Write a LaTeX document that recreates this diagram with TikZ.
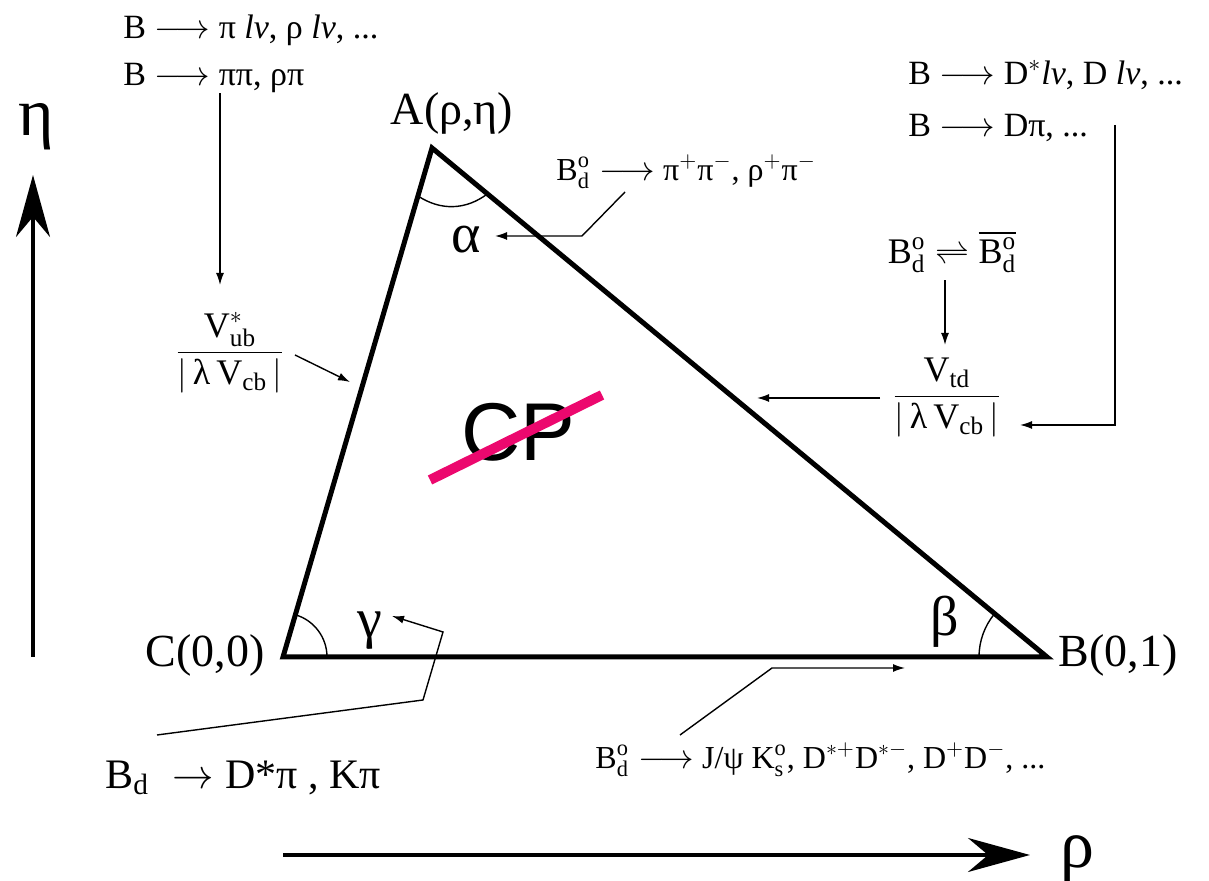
\documentclass[tikz,border=0pt]{standalone}
\usepackage{amsmath}
\usepackage{fontspec}
\setmainfont{Liberation Serif}
\newfontfamily\cpfont{Liberation Sans}
\usetikzlibrary{arrows.meta, angles, calc}
\definecolor{strikered}{RGB}{236,8,110}
\tikzset{
    edge/.style={draw=black, line width=2.5pt, line join=miter},
    lead/.style={draw=black, line width=0.7pt},
    tip/.style={-{Latex[length=6pt,width=4pt]}},
    axis/.style={line width=2pt, -{Stealth[length=31pt,width=17pt]}},
    corner/.style={font=\fontsize{23}{26}\selectfont},
    greek/.style={font=\fontsize{28}{30}\selectfont},
    axislab/.style={font=\fontsize{34}{36}\selectfont},
    decay/.style={font=\fontsize{17}{20}\selectfont, anchor=west, inner sep=0pt},
    ratio/.style={font=\fontsize{18}{22}\selectfont, anchor=base}
}
\newcommand{\Bdo}{\text{B}^{\text{o}}_{\text{d}}}

\begin{document}
\begin{tikzpicture}[x=0.5pt, y=0.5pt]
    \useasboundingbox (0,0) rectangle (1209,881);
    % unitarity triangle
    \coordinate (A) at (432,733);
    \coordinate (C) at (283,224);
    \coordinate (B) at (1047,224);
    \draw[edge] (A) -- (B) -- (C) -- cycle;
    \pic[draw, line width=0.7pt, angle radius=22pt] {angle = B--C--A};
    \pic[draw, line width=0.7pt, angle radius=34pt] {angle = A--B--C};
    \draw[lead] ($(A)!25pt!(C)$) to[bend right=35] ($(A)!36pt!(B)$);
    \node[corner] (Alab) at (452,768) {A(ρ,η)};
    \node[corner] (Clab) at (205,226) {C(0,0)};
    \node[corner] (Blab) at (1118,226) {B(0,1)};
    \node[greek] (alpha) at (466,641) {α};
    \node[greek] (gamma) at (370,250) {γ};
    \node[greek] (beta) at (945,259) {β};

    % axes
    \coordinate (eta0) at (33,224);
    \coordinate (eta1) at (33,706);
    \coordinate (rho0) at (283,26);
    \coordinate (rho1) at (1030,26);
    \draw[axis] (eta0) -- (eta1);
    \draw[axis] (rho0) -- (rho1);
    \node[axislab] (etalab) at (36,754) {η};
    \node[axislab] (rholab) at (1077,22) {ρ};

    % CP
    \node[font=\cpfont\fontsize{41}{46}\selectfont] (cp) at (518,449) {CP};
    \draw[strikered, line width=5pt] (430,401) -- (602,486);

    % left side: V_ub
    \node[decay] (lt1) at (123,851) {B $\longrightarrow$ π \textit{lν}, ρ \textit{lν}, ...};
    \node[decay] (lt2) at (123,803) {B $\longrightarrow$ ππ, ρπ};
    \node[ratio] (vub) at (230,520)
        {$\dfrac{\text{V}^{*}_{\text{ub}}}{\left|\,\text{λ\,V}_{\text{cb}}\,\right|}$};
    \coordinate (vub_in) at (220,596);
    \draw[lead, tip] (lt2.south -| vub_in) -- (vub_in);
    \coordinate (vub_out) at (295,526);
    \coordinate (ac_side) at (350,499);
    \draw[lead, tip] (vub_out) -- (ac_side);

    % right side: V_td
    \node[decay] (rt1) at (908,806) {B $\longrightarrow$ D$^{*}$\textit{lν}, D \textit{lν}, ...};
    \node[decay] (rt2) at (908,753) {B $\longrightarrow$ Dπ, ...};
    \node (mix) at (952,629) {\fontsize{18}{20}\selectfont
        $\Bdo \rightleftharpoons \overline{\Bdo}$};
    \node[ratio] (vtd) at (947,476)
        {$\dfrac{\text{V}_{\text{td}}}{\left|\,\text{λ\,V}_{\text{cb}}\,\right|}$};
    \coordinate (rt_top) at (1115,756);
    \coordinate (rt_turn) at (1115,456);
    \coordinate (vtd_in) at (1020,456);
    \draw[lead, tip] (rt_top) -- (rt_turn) -- (vtd_in);
    \coordinate (vtd_top) at (945,536);
    \draw[lead, tip] (mix.south -| vtd_top) -- (vtd_top);
    \coordinate (vtd_out) at (880,483);
    \coordinate (ab_side) at (757,483);
    \draw[lead, tip] (vtd_out) -- (ab_side);

    % angle measurements
    \node[decay, font=\fontsize{16}{19}\selectfont] (bpp) at (556,709)
        {$\Bdo \longrightarrow$ π$^{+}$π$^{-}$, ρ$^{+}$π$^{-}$};
    \coordinate (al_top) at (625,689);
    \coordinate (al_mid) at (582,645);
    \coordinate (al_tip) at (495,645);
    \draw[lead, tip] (al_top) -- (al_mid) -- (al_tip);

    \node[decay, font=\fontsize{16}{19}\selectfont] (bjk) at (595,121)
        {$\Bdo \longrightarrow$ J/ψ K$^{\text{o}}_{\text{s}}$, D$^{*+}$D$^{*-}$, D$^{+}$D$^{-}$, ...};
    \coordinate (be_low) at (680,146);
    \coordinate (be_mid) at (772,213);
    \coordinate (be_tip) at (905,213);
    \draw[lead, tip] (be_low) -- (be_mid) -- (be_tip);

    \node[font=\fontsize{21}{24}\selectfont, anchor=west, inner sep=0pt] (bdk) at (105,103)
        {B$_{\text{d}}\;\rightarrow\;$D*π , Kπ};
    \coordinate (ga_low) at (157,146);
    \coordinate (ga_a) at (423,181);
    \coordinate (ga_b) at (443,249);
    \coordinate (ga_tip) at (392,265);
    \draw[lead, tip] (ga_low) -- (ga_a) -- (ga_b) -- (ga_tip);
\end{tikzpicture}
\end{document}
